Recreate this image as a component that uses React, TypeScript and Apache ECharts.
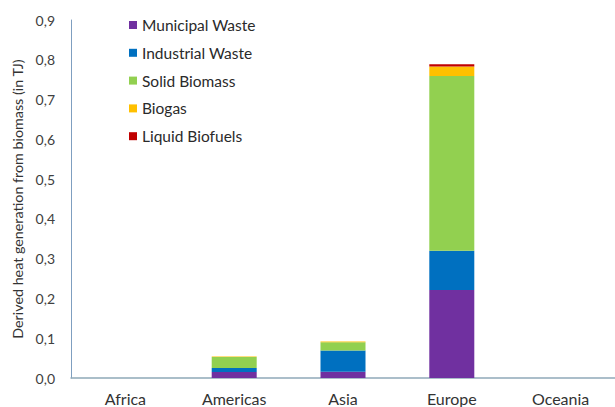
import React, { useEffect, useRef } from "react";
import * as echarts from "echarts";

const categories = ["Africa", "Americas", "Asia", "Europe", "Oceania"];
const municipalWaste = [0, 0.015, 0.016, 0.221, 0];
const industrialWaste = [0, 0.01, 0.053, 0.099, 0];
const solidBiomass = [0, 0.028, 0.021, 0.439, 0];
const biogas = [0, 0.001, 0.002, 0.024, 0];
const liquidBiofuels = [0, 0, 0, 0.006, 0];
const yTicks = [0, 0.1, 0.2, 0.3, 0.4, 0.5, 0.6, 0.7, 0.8, 0.9];

const FONT = "Lato";

export default function App() {
  const ref = useRef<HTMLDivElement>(null);
  useEffect(() => {
    if (!ref.current) return;
    const chart = echarts.init(ref.current, undefined, { renderer: "svg" });
    const mk = (name: string, data: number[], color: string) => ({
      name,
      type: "bar",
      stack: "total",
      data,
      barWidth: 45,
      itemStyle: { color },
    });
    chart.setOption({
      animation: false,
      textStyle: { fontFamily: FONT },
      grid: { left: 71, top: 20, width: 550, height: 358, containLabel: false },
      legend: {
        orient: "vertical",
        left: 124,
        top: 12,
        itemWidth: 8,
        itemHeight: 8,
        itemGap: 11.8,
        icon: "rect",
        textStyle: { fontFamily: FONT, fontSize: 15.5, lineHeight: 16, color: "#2a2a2a" },
        data: ["Municipal Waste", "Industrial Waste", "Solid Biomass", "Biogas", "Liquid Biofuels"],
      },
      xAxis: {
        type: "category",
        data: categories,
        axisLine: { lineStyle: { color: "#8FA9B8", width: 1.5 } },
        axisTick: { show: false },
        axisLabel: { fontFamily: FONT, fontSize: 16, color: "#333", margin: 12 },
      },
      yAxis: {
        type: "value",
        min: 0,
        max: 0.9,
        interval: 0.1,
        name: "Derived heat generation from biomass (in TJ)",
        nameLocation: "middle",
        nameRotate: 90,
        nameGap: 46,
        nameTextStyle: { fontFamily: FONT, fontSize: 14.3, color: "#333" },
        axisLine: { show: true, lineStyle: { color: "#7F9FC0", width: 1 } },
        axisTick: { show: false },
        splitLine: { show: false },
        axisLabel: {
          fontFamily: FONT,
          fontSize: 14,
          color: "#404040",
          margin: 16,
          formatter: (v: number) => {
            const t = yTicks.find((x) => Math.abs(x - v) < 1e-9);
            return (t ?? v).toFixed(1).replace(".", ",");
          },
        },
      },
      series: [
        mk("Municipal Waste", municipalWaste, "#7030A0"),
        mk("Industrial Waste", industrialWaste, "#0070C0"),
        mk("Solid Biomass", solidBiomass, "#92D050"),
        mk("Biogas", biogas, "#FFC000"),
        mk("Liquid Biofuels", liquidBiofuels, "#C00000"),
      ],
    });
    return () => chart.dispose();
  }, []);
  return <div ref={ref} style={{ width: 615, height: 407, position: "absolute", left: 0, top: 0, background: "#fff" }} />;
}
